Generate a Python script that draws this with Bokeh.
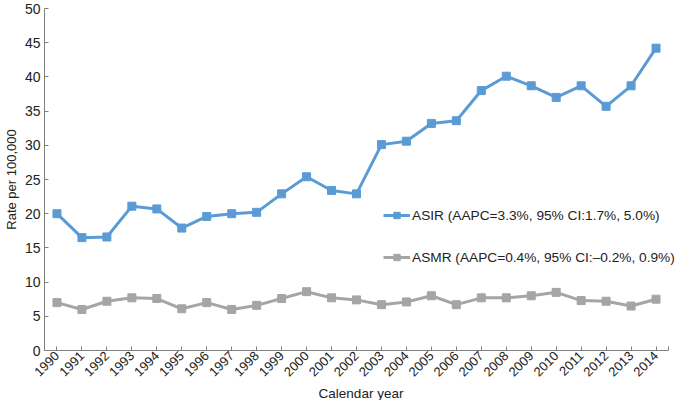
import math
from bokeh.plotting import figure
from bokeh.models import ColumnDataSource, Range1d, FixedTicker, Legend, LegendItem, Title
from bokeh.embed import file_html
from bokeh.resources import INLINE

years = list(range(1990, 2015))
asir = [20.0, 16.5, 16.6, 21.1, 20.7, 17.9, 19.6, 20.0, 20.2, 22.9, 25.4, 23.4, 22.9,
        30.1, 30.6, 33.2, 33.6, 38.0, 40.1, 38.7, 37.0, 38.7, 35.7, 38.7, 44.2]
asmr = [7.0, 6.0, 7.2, 7.7, 7.6, 6.1, 7.0, 6.0, 6.6, 7.6, 8.6, 7.7, 7.4,
        6.7, 7.1, 8.0, 6.7, 7.7, 7.7, 8.0, 8.5, 7.3, 7.2, 6.5, 7.5]
y_ticks = list(range(0, 51, 5))
asir_label = "ASIR (AAPC=3.3%, 95% CI:1.7%, 5.0%)"
asmr_label = "ASMR (AAPC=0.4%, 95% CI:\u20130.2%, 0.9%)"
x_title = "Calendar year"
y_title = "Rate per 100,000"

FONT = "Liberation Sans"
BLUE = "#5B9BD5"
GRAY = "#A5A5A5"
AXIS = "#7f7f7f"

src = ColumnDataSource(dict(x=years, asir=asir, asmr=asmr))

p = figure(width=677, height=400, output_backend="svg", toolbar_location=None,
           x_range=Range1d(1989.5, 2014.86), y_range=Range1d(0, 50),
           min_border_left=39, min_border_right=0, min_border_top=8, min_border_bottom=0)
p.outline_line_color = None
p.grid.grid_line_color = None
p.background_fill_color = "white"
p.border_fill_color = "white"

l1 = p.line("x", "asir", source=src, line_color=BLUE, line_width=3)
m1 = p.scatter("x", "asir", source=src, marker="square", size=8, fill_color=BLUE, line_color=BLUE)
l2 = p.line("x", "asmr", source=src, line_color=GRAY, line_width=3)
m2 = p.scatter("x", "asmr", source=src, marker="square", size=8, fill_color=GRAY, line_color=GRAY)

xa = p.xaxis[0]
xa.bounds = (1989.5, 2014.5)
xa.ticker = FixedTicker(ticks=years + [2014.5])
xa.major_label_overrides = {2014.5: ""}
xa.major_label_orientation = math.pi / 4
xa.major_tick_in = 4
xa.major_tick_out = 0
xa.minor_tick_line_color = None
xa.axis_line_color = AXIS
xa.major_tick_line_color = AXIS
xa.major_label_text_font = FONT
xa.major_label_text_font_size = "13px"
xa.major_label_text_color = "#222222"
xa.major_label_standoff = 3

p.add_layout(Title(text=x_title, align="center", text_font=FONT, text_font_size="13.5px",
                   text_font_style="normal", text_color="#222222", standoff=0), "below")

ya = p.yaxis[0]
ya.ticker = FixedTicker(ticks=y_ticks)
ya.major_tick_in = 4
ya.major_tick_out = 0
ya.minor_tick_line_color = None
ya.axis_line_color = AXIS
ya.major_tick_line_color = AXIS
ya.major_label_text_font = FONT
ya.major_label_text_font_size = "14px"
ya.major_label_text_color = "#222222"
ya.major_label_standoff = 4
ya.axis_label = y_title
ya.axis_label_text_font = FONT
ya.axis_label_text_font_size = "13px"
ya.axis_label_text_font_style = "normal"
ya.axis_label_text_color = "#222222"
ya.axis_label_standoff = 3

legend = Legend(items=[LegendItem(label=asir_label, renderers=[l1, m1]),
                       LegendItem(label=asmr_label, renderers=[l2, m2])],
                location=(339, 85), orientation="vertical",
                border_line_color=None, background_fill_alpha=0,
                padding=0, margin=0, spacing=26, glyph_width=27, glyph_height=16,
                label_height=16, label_standoff=2,
                label_text_font=FONT, label_text_font_size="13.7px", label_text_color="#222222")
p.add_layout(legend, "center")

open("out.html", "w").write(file_html(p, INLINE))
